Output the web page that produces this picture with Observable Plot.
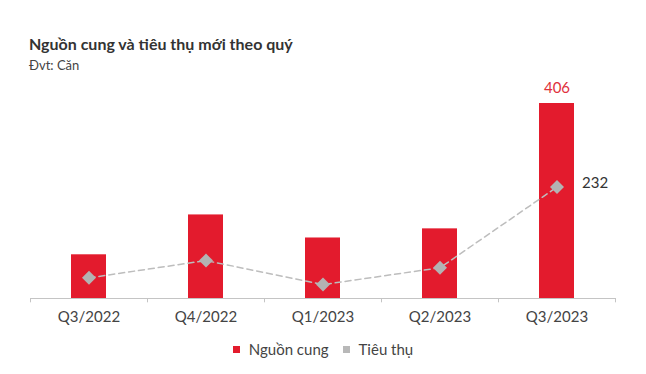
<!DOCTYPE html>
<html>
<head>
<meta charset="utf-8">
<script src="https://cdn.jsdelivr.net/npm/d3@7"></script>
<script src="https://cdn.jsdelivr.net/npm/@observablehq/plot@0.6"></script>
<style>
  body { margin: 0; width: 646px; height: 374px; background: #fff; font-family: Lato, "Open Sans", sans-serif; overflow: hidden; }
  .title { padding: 34px 0 0 29px; font-size: 16px; line-height: 20px; font-weight: 700; color: #333; }
  .sub { margin: 4px 0 0 29px; font-size: 13px; line-height: 14px; color: #444; }
  #chart svg { display: block; }
  .legend { height: 18px; line-height: 18px; display: flex; justify-content: center; align-items: center; font-size: 15px; color: #444; padding-left: 0px; }
  .legend span.sw { display: inline-block; width: 7px; height: 7px; margin-right: 9px; }
  .legend .item { display: flex; align-items: center; margin: 0 7px; }
</style>
</head>
<body>
<div class="title">Nguồn cung và tiêu thụ mới theo quý</div>
<div class="sub">Đvt: Căn</div>
<div id="chart"></div>
<div class="legend">
  <div class="item"><span class="sw" style="background:#E31B2D"></span>Nguồn cung</div>
  <div class="item"><span class="sw" style="background:#b8b8b8"></span>Tiêu thụ</div>
</div>
<script>
const quarters = ["Q3/2022", "Q4/2022", "Q1/2023", "Q2/2023", "Q3/2023"];
const supply = [91, 174, 126, 145, 406];
const sales = [43, 79, 29, 64, 232];

const data = quarters.map((q, i) => ({q, supply: supply[i], sales: sales[i]}));
const last = data.slice(-1);
const W = 646, ML = 30, MR = 31;
const step = (W - ML - MR) / quarters.length;

const chart = Plot.plot({
  width: W,
  height: 268,
  marginLeft: ML,
  marginRight: MR,
  marginTop: 31,
  marginBottom: 42,
  style: {fontFamily: "Lato, sans-serif", background: "#fff", overflow: "visible"},
  x: {type: "band", domain: quarters, padding: 0, label: null},
  y: {domain: [0, 406], axis: null},
  marks: [
    Plot.barY(data, {x: "q", y: "supply", fill: "#E31B2D", insetLeft: (step - 35) / 2, insetRight: (step - 35) / 2}),
    Plot.ruleY([0], {stroke: "#c4c4c4", strokeWidth: 1}),
    Plot.ruleX(quarters, {x: d => d, dx: -step / 2, y1: 0, y2: -9, stroke: "#c4c4c4"}),
    Plot.ruleX(quarters.slice(-1), {x: d => d, dx: step / 2, y1: 0, y2: -9, stroke: "#c4c4c4"}),
    Plot.axisX({tickSize: 0, tickPadding: 13, fontSize: 15, color: "#444", label: null}),
    Plot.line(data, {x: "q", y: "sales", stroke: "#bdbdbd", strokeWidth: 1.5, strokeDasharray: "6,4"}),
    Plot.dot(data, {x: "q", y: "sales", symbol: "diamond2", r: 6.3, fill: "#b3b3b3", stroke: null}),
    Plot.text(last, {x: "q", y: "supply", text: d => String(d.supply), dy: -15, fill: "#e0303c", fontSize: 15}),
    Plot.text(last, {x: "q", y: "sales", text: d => String(d.sales), dx: 25, dy: -4, textAnchor: "start", fill: "#333", fontSize: 15})
  ]
});
document.getElementById("chart").append(chart);
</script>
</body>
</html>
